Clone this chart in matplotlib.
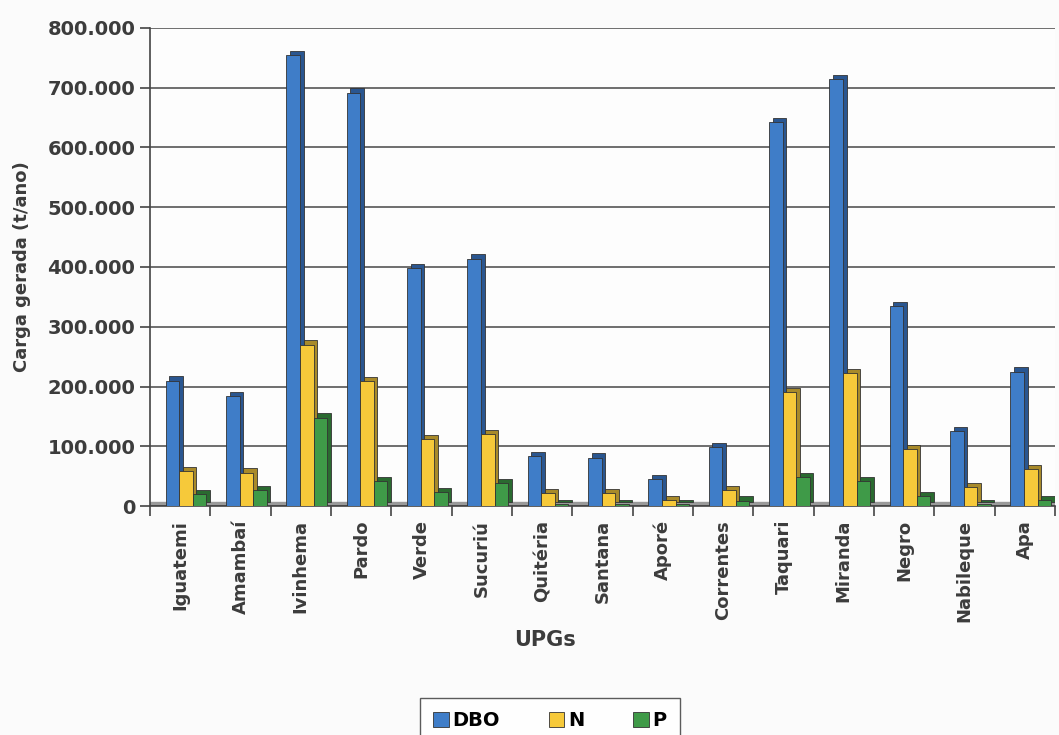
import matplotlib
matplotlib.use("Agg")
import numpy as np
import matplotlib.pyplot as plt
from matplotlib.ticker import FuncFormatter

plt.rcParams['font.family'] = ['DejaVu Sans']

upgs = ["Iguatemi", "Amambaí", "Ivinhema", "Pardo", "Verde", "Sucuriú", "Quitéria",
        "Santana", "Aporé", "Correntes", "Taquari", "Miranda", "Negro", "Nabileque", "Apa"]
dbo = [210000, 184000, 754000, 692000, 398000, 414000, 84000,
       81000, 45000, 98000, 643000, 714000, 334000, 125000, 225000]
n = [59000, 56000, 270000, 209000, 112000, 120000, 22000,
     21000, 10000, 26000, 190000, 223000, 95000, 31000, 62000]
p = [20000, 27000, 148000, 42000, 23000, 39000, 3000,
     3000, 3000, 9000, 48000, 42000, 16000, 3000, 10000]

series = [("DBO", dbo, "#3f7dc8", "#2a5690"),
          ("N", n, "#f6c93a", "#a88a2a"),
          ("P", p, "#3f9a48", "#2a6a30")]

txt = "#3c3c3c"
fig = plt.figure(figsize=(10.59, 7.35), dpi=100)
fig.patch.set_facecolor("#fbfbfb")
ax = fig.add_axes([150 / 1059, 1 - 506 / 735, 905 / 1059, 478 / 735])
ax.set_facecolor("#fdfdfd")

x = np.arange(len(upgs))
w = 0.225
dx, dy = 0.06, 7000

# piso cinza do grafico 3D
ax.axhspan(0, dy, color="#9a9a9a", zorder=1)

for i, (name, vals, col, dark) in enumerate(series):
    pos = x - 0.24 + w / 2 + i * w
    ax.bar(pos + dx, vals, w, bottom=dy, color=dark, edgecolor="#333333",
           linewidth=0.6, zorder=2 + i * 2)
    ax.bar(pos, vals, w, color=col, edgecolor="#333333", linewidth=0.6,
           zorder=3 + i * 2, label=name)

ax.set_xlim(-0.5, len(upgs) - 0.5)
ax.set_ylim(0, 800000)
ax.set_yticks(np.arange(0, 800001, 100000))
ax.yaxis.set_major_formatter(FuncFormatter(lambda v, _: f"{int(v):,}".replace(",", ".")))
ax.grid(axis="y", color="#555555", linewidth=1.2, zorder=0)
ax.set_xticks(np.arange(len(upgs) + 1) - 0.5, minor=True)
ax.set_xticks(x)
ax.set_xticklabels(upgs, rotation=90, fontsize=13, fontweight="bold", color=txt)
ax.tick_params(axis="x", which="major", length=0, pad=10)
ax.tick_params(axis="x", which="minor", length=7, width=1.2, color="#444444")
ax.tick_params(axis="y", length=7, width=1.2, color="#444444", labelsize=14,
               labelcolor=txt)
for lab in ax.get_yticklabels():
    lab.set_fontweight("bold")

for s in ["top", "right"]:
    ax.spines[s].set_visible(False)
for s in ["left", "bottom"]:
    ax.spines[s].set_color("#444444")
    ax.spines[s].set_linewidth(1.2)

ax.set_ylabel("Carga gerada (t/ano)", fontsize=13, fontweight="bold", color=txt,
              labelpad=12)
fig.text(545 / 1059, 1 - 640 / 735, "UPGs", fontsize=15, fontweight="bold",
         color=txt, ha="center", va="center")

fig.legend(loc="upper center", bbox_to_anchor=(550 / 1059, 1 - 688 / 735), ncol=3,
           frameon=True, fancybox=False, edgecolor="#333333",
           handlelength=0.8, handleheight=0.8, handletextpad=0.2, columnspacing=2.5,
           borderpad=0.7, prop={"weight": "bold", "size": 14})

fig.savefig("out.png", dpi=100, facecolor=fig.get_facecolor())
